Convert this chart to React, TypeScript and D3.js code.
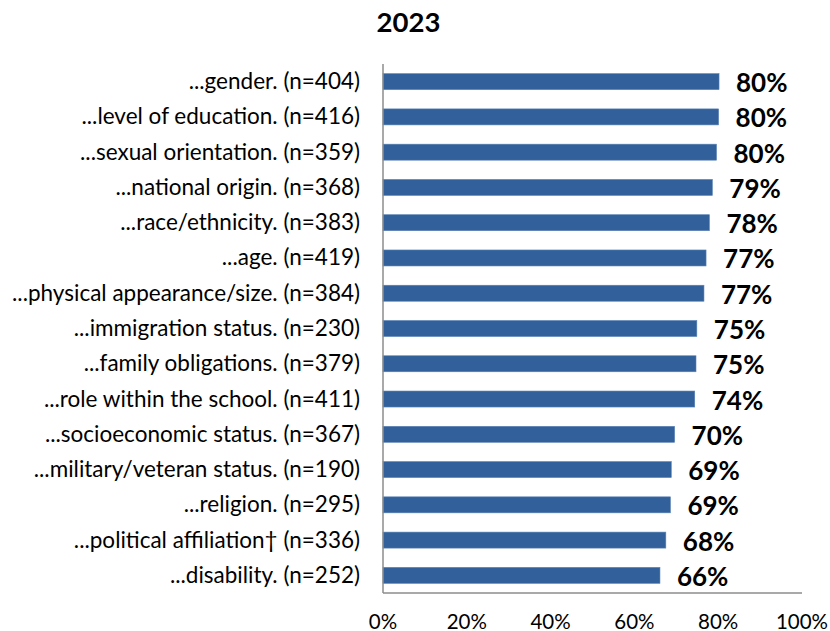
import React from "react";
import * as d3 from "d3";

const categories = [
  "...gender. (n=404)",
  "...level of education. (n=416)",
  "...sexual orientation. (n=359)",
  "...national origin. (n=368)",
  "...race/ethnicity. (n=383)",
  "...age. (n=419)",
  "...physical appearance/size. (n=384)",
  "...immigration status. (n=230)",
  "...family obligations. (n=379)",
  "...role within the school. (n=411)",
  "...socioeconomic status. (n=367)",
  "...military/veteran status. (n=190)",
  "...religion. (n=295)",
  "...political affiliation\u2020 (n=336)",
  "...disability. (n=252)",
];
const values = [80.2, 80.1, 79.6, 78.6, 77.9, 77.1, 76.6, 74.9, 74.7, 74.4, 69.6, 68.8, 68.6, 67.5, 66.1];
const labels = ["80%", "80%", "80%", "79%", "78%", "77%", "77%", "75%", "75%", "74%", "70%", "69%", "69%", "68%", "66%"];
const xTicks = [0, 20, 40, 60, 80, 100];
const title = "2023";

const W = 830;
const H = 631;
const left = 383;
const right = 802;
const top = 64;
const bottom = 593;
const font = "Lato, 'Open Sans', sans-serif";

export default function App() {
  const x = d3.scaleLinear().domain([0, 100]).range([left, right]);
  const y = d3.scaleBand<string>().domain(categories).range([top, bottom]).padding(0);
  const barH = 16;
  return (
    <svg width={W} height={H} style={{ position: "absolute", left: 0, top: 0, background: "#fff" }}>
      <text x={408.5} y={32} textAnchor="middle" fontFamily={font} fontWeight="bold" fontSize={27.5} fill="#000">
        {title}
      </text>
      {categories.map((c, i) => {
        const cy = (y(c) as number) + y.bandwidth() / 2;
        return (
          <g key={c}>
            <rect x={x(0)} y={cy - barH / 2} width={x(values[i]) - x(0)} height={barH} fill="#31609A" stroke="#5A82B4" strokeWidth={0.6} />
            <text x={x(values[i]) + 17} y={cy + 10.5} fontFamily={font} fontWeight="bold" fontSize={26} fill="#000">
              {labels[i]}
            </text>
            <text x={360} y={cy + 7.5} textAnchor="end" fontFamily={font} fontSize={22.5} fill="#000">
              {c}
            </text>
          </g>
        );
      })}
      <line x1={left} x2={left} y1={top} y2={bottom} stroke="#8C8C8C" strokeWidth={1.5} />
      <line x1={left} x2={right} y1={bottom} y2={bottom} stroke="#8C8C8C" strokeWidth={1.5} />
      {xTicks.map((t) => (
        <text key={t} x={x(t)} y={628.5} textAnchor="middle" fontFamily={font} fontSize={20.5} fill="#000">
          {t + "%"}
        </text>
      ))}
    </svg>
  );
}
